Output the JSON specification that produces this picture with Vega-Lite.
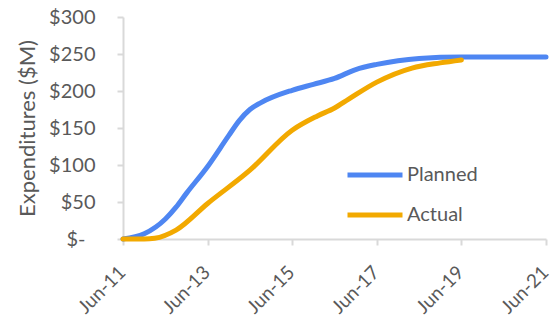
{
  "$schema": "https://vega.github.io/schema/vega-lite/v6.json",
  "width": 423,
  "height": 222,
  "autosize": {"type": "none"},
  "padding": {"left": 123, "top": 17, "right": 9, "bottom": 80},
  "background": "white",
  "config": {
    "view": {"stroke": null},
    "font": "Lato",
    "axis": {"labelFont": "Lato", "titleFont": "Lato", "labelColor": "#595959", "titleColor": "#595959", "domainColor": "#d9d9d9", "tickColor": "#d9d9d9", "grid": false, "domainWidth": 2, "tickWidth": 2},
    "legend": {"labelFont": "Lato"}
  },
  "data": {
    "values": [
      {"date": "2011-06-01", "series": "Planned", "value": 0},
      {"date": "2011-12-01", "series": "Planned", "value": 7},
      {"date": "2012-06-01", "series": "Planned", "value": 27},
      {"date": "2012-09-01", "series": "Planned", "value": 43},
      {"date": "2012-12-01", "series": "Planned", "value": 62},
      {"date": "2013-06-01", "series": "Planned", "value": 98},
      {"date": "2013-12-01", "series": "Planned", "value": 140},
      {"date": "2014-03-01", "series": "Planned", "value": 160},
      {"date": "2014-06-01", "series": "Planned", "value": 175},
      {"date": "2014-09-01", "series": "Planned", "value": 184},
      {"date": "2015-06-01", "series": "Planned", "value": 201},
      {"date": "2015-12-01", "series": "Planned", "value": 209},
      {"date": "2016-06-01", "series": "Planned", "value": 217},
      {"date": "2016-12-01", "series": "Planned", "value": 229},
      {"date": "2017-06-01", "series": "Planned", "value": 236},
      {"date": "2017-12-01", "series": "Planned", "value": 241},
      {"date": "2018-06-01", "series": "Planned", "value": 244},
      {"date": "2019-06-01", "series": "Planned", "value": 246},
      {"date": "2020-06-01", "series": "Planned", "value": 246},
      {"date": "2021-06-01", "series": "Planned", "value": 246},
      {"date": "2011-06-01", "series": "Actual", "value": 0},
      {"date": "2011-12-01", "series": "Actual", "value": 0},
      {"date": "2012-03-01", "series": "Actual", "value": 1},
      {"date": "2012-09-01", "series": "Actual", "value": 12},
      {"date": "2013-06-01", "series": "Actual", "value": 48},
      {"date": "2014-06-01", "series": "Actual", "value": 93},
      {"date": "2015-06-01", "series": "Actual", "value": 147},
      {"date": "2016-01-01", "series": "Actual", "value": 166},
      {"date": "2016-06-01", "series": "Actual", "value": 177},
      {"date": "2016-10-01", "series": "Actual", "value": 189},
      {"date": "2017-06-01", "series": "Actual", "value": 212},
      {"date": "2018-04-01", "series": "Actual", "value": 231},
      {"date": "2018-12-01", "series": "Actual", "value": 238},
      {"date": "2019-06-01", "series": "Actual", "value": 242}
    ]
  },
  "mark": {"type": "line", "interpolate": "monotone", "strokeWidth": 5, "strokeCap": "round"},
  "encoding": {
    "x": {
      "field": "date", "type": "temporal",
      "scale": {"domain": [{"year": 2011, "month": 6, "date": 1}, {"year": 2021, "month": 6, "date": 1}]},
      "axis": {
        "title": null,
        "format": "%b-%y",
        "values": [
          {"year": 2011, "month": 6, "date": 1},
          {"year": 2013, "month": 6, "date": 1},
          {"year": 2015, "month": 6, "date": 1},
          {"year": 2017, "month": 6, "date": 1},
          {"year": 2019, "month": 6, "date": 1},
          {"year": 2021, "month": 6, "date": 1}
        ],
        "labelAngle": -45,
        "labelAlign": "right",
        "labelBaseline": "middle",
        "labelFontSize": 19,
        "labelPadding": 24,
        "labelOffset": -1,
        "tickSize": 6,
        "labelOverlap": false,
        "labelFlush": false
      }
    },
    "y": {
      "field": "value", "type": "quantitative",
      "scale": {"domain": [0, 300], "nice": false},
      "axis": {
        "title": "Expenditures ($M)",
        "titleFontSize": 22,
        "titleFontWeight": "normal",
        "titlePadding": 9,
        "values": [0, 50, 100, 150, 200, 250, 300],
        "labelExpr": "datum.value == 0 ? '$-' : '$' + datum.value",
        "labelFontSize": 20,
        "labelPadding": {"condition": {"test": "datum.value == 0", "value": 32}, "value": 22},
        "tickSize": 6
      }
    },
    "color": {
      "field": "series", "type": "nominal",
      "scale": {"domain": ["Planned", "Actual"], "range": ["#4E86F2", "#F2A900"]},
      "legend": {
        "title": null,
        "orient": "none",
        "legendX": 222,
        "legendY": 128,
        "symbolType": "stroke",
        "symbolSize": 3025,
        "symbolStrokeWidth": 5,
        "labelFontSize": 20,
        "labelColor": "#595959",
        "labelOffset": 2,
        "rowPadding": -27
      }
    }
  }
}
